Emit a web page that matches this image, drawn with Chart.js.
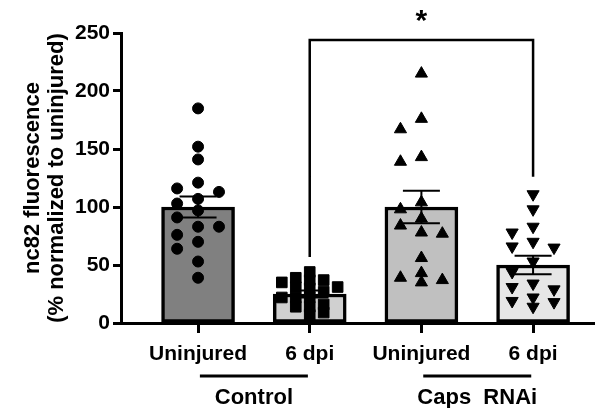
<!DOCTYPE html>
<html>
<head>
<meta charset="utf-8">
<script src="https://cdn.jsdelivr.net/npm/chart.js@4"></script>
<style>
  html, body { margin: 0; padding: 0; background: #fff; }
  #wrap { width: 603px; height: 408px; }
</style>
</head>
<body>
<div id="wrap"><canvas id="nc82Chart" width="603" height="408"></canvas></div>
<script>
// values
const catLabels = ["Uninjured", "6 dpi", "Uninjured", "6 dpi"];
const groupNames = ["Control", "Caps  RNAi"];
const yTicks = [0, 50, 100, 150, 200, 250];
const means = [100, 25, 100, 50];
const sems = [9, 3, 14, 8];
const barColors = ["#808080", "#d0d0d0", "#c0c0c0", "#e6e6e6"];

const ctrlUninjured = [185, 152, 141, 121, 116, 113, 107, 103, 97, 91, 83, 83, 76, 70, 64, 53, 39];
const ctrl6dpi = [44, 39, 37, 37, 35, 31, 31, 30, 27, 22, 22, 22, 16, 14, 14, 9, 7];
const rnaiUninjured = [215, 176, 167, 143, 139, 104, 98, 90, 84, 78, 77, 56, 43, 39, 37, 35];
const rnai6dpi = [111, 98, 83, 78, 70, 66, 65, 53, 44, 34, 31, 29, 22, 19, 18, 14];

const FONT = "'Liberation Sans', Arial, sans-serif";

// rough px per unit, only used to spread the dots sideways (beeswarm)
const PX_X = 112, PX_Y = 1.16;

function swarm(values, center, half, colGap, diam, maxK) {
  const placed = [];
  const order = values.map((v, i) => i).sort((a, b) => values[b] - values[a]);
  const ks = [0];
  for (let k = 1; k <= maxK; k++) ks.push(-k, k);
  const out = new Array(values.length);
  order.forEach(i => {
    const v = values[i];
    let best = 0, bestGap = -1;
    for (const k of ks) {
      const cand = k * half;
      let gap = Infinity;
      placed.forEach(p => {
        if (Math.abs(p.dx - cand) < colGap) gap = Math.min(gap, Math.abs(p.v - v) * PX_Y);
      });
      if (gap >= diam) { best = cand; bestGap = gap; break; }
      if (gap > bestGap) { bestGap = gap; best = cand; }
    }
    placed.push({ dx: best, v });
    out[i] = { x: center + best / PX_X, y: v };
  });
  return out;
}

function pointSet(values, center, style, radius, rotation, spread) {
  const s = spread || { half: 10.5, colGap: 20.5, diam: 11, maxK: 3 };
  return {
    type: "scatter",
    data: swarm(values, center, s.half, s.colGap, s.diam, s.maxK),
    pointStyle: style,
    pointRadius: radius,
    pointRotation: rotation || 0,
    backgroundColor: "#000",
    borderColor: "#000",
    borderWidth: 1,
    order: 1
  };
}

// error bars, significance bracket, group labels
const extrasPlugin = {
  id: "extras",
  afterDatasetsDraw(chart) {
    const { ctx, scales: { x, y }, chartArea } = chart;
    ctx.save();
    ctx.strokeStyle = "#000";
    ctx.fillStyle = "#000";

    // SEM bars
    ctx.lineWidth = 2;
    means.forEach((m, i) => {
      const cx = x.getPixelForValue(i + 1);
      const yt = y.getPixelForValue(m + sems[i]);
      const yb = y.getPixelForValue(m - sems[i]);
      const w = 18.5;
      ctx.beginPath();
      ctx.moveTo(cx, yt); ctx.lineTo(cx, yb);
      ctx.moveTo(cx - w, yt); ctx.lineTo(cx + w, yt);
      ctx.moveTo(cx - w, yb); ctx.lineTo(cx + w, yb);
      ctx.stroke();
    });

    // bracket 6 dpi control vs 6 dpi RNAi
    ctx.lineWidth = 2.5;
    const x1 = x.getPixelForValue(2), x2 = x.getPixelForValue(4);
    const top = y.getPixelForValue(244);
    ctx.beginPath();
    ctx.moveTo(x1, y.getPixelForValue(57));
    ctx.lineTo(x1, top);
    ctx.lineTo(x2, top);
    ctx.lineTo(x2, y.getPixelForValue(126));
    ctx.stroke();
    ctx.font = "bold 30px " + FONT;
    ctx.textAlign = "center";
    ctx.textBaseline = "middle";
    ctx.fillText("*", x.getPixelForValue(3), top - 18);

    // group underlines + names
    ctx.lineWidth = 3;
    ctx.font = "bold 22px " + FONT;
    [[1, 2], [3, 4]].forEach((pair, g) => {
      const mid = x.getPixelForValue((pair[0] + pair[1]) / 2);
      const ly = chartArea.bottom + 53;
      ctx.beginPath();
      ctx.moveTo(mid - 54, ly);
      ctx.lineTo(mid + 54, ly);
      ctx.stroke();
      ctx.fillText(groupNames[g], mid, ly + 22);
    });
    ctx.restore();
  }
};

new Chart(document.getElementById("nc82Chart"), {
  type: "bar",
  data: {
    datasets: [
      pointSet(ctrlUninjured, 1, "circle", 5.5),
      pointSet(ctrl6dpi, 2, "rect", 7.5, 0, { half: 7, colGap: 10, diam: 7, maxK: 4 }),
      pointSet(rnaiUninjured, 3, "triangle", 7),
      pointSet(rnai6dpi, 4, "triangle", 7, 180),
      {
        type: "bar",
        data: means.map((m, i) => ({ x: i + 1, y: m })),
        backgroundColor: barColors,
        borderColor: "#000",
        borderWidth: 3.5,
        borderSkipped: false,
        barThickness: 73,
        order: 2
      }
    ]
  },
  options: {
    responsive: false,
    animation: false,
    events: [],
    layout: { padding: { top: 33, right: 3, left: 0, bottom: 0 } },
    plugins: { legend: { display: false }, tooltip: { enabled: false } },
    scales: {
      x: {
        type: "linear",
        offset: false,
        min: 0.31,
        max: 4.55,
        afterFit(s) { s.height = 85; },
        afterBuildTicks(s) { s.ticks = catLabels.map((c, i) => ({ value: i + 1 })); },
        grid: { offset: false, drawOnChartArea: false, tickLength: 10, tickWidth: 3, tickColor: "#000" },
        border: { color: "#000", width: 3 },
        ticks: {
          autoSkip: false,
          maxRotation: 0,
          padding: 9,
          color: "#000",
          font: { family: FONT, size: 21, weight: "bold" },
          callback: v => catLabels[v - 1]
        }
      },
      y: {
        min: 0,
        max: 250,
        afterFit(s) { s.width = 121; },
        afterBuildTicks(s) { s.ticks = yTicks.map(v => ({ value: v })); },
        grid: { drawOnChartArea: false, tickLength: 8, tickWidth: 3, tickColor: "#000" },
        border: { color: "#000", width: 3 },
        ticks: {
          padding: 3,
          color: "#000",
          font: { family: FONT, size: 21, weight: "bold" }
        },
        title: {
          display: true,
          text: ["nc82 fluorescence", "(% normalized to uninjured)"],
          color: "#000",
          padding: { top: 21, bottom: 0 },
          font: { family: FONT, size: 22, weight: "bold", lineHeight: 1.1 }
        }
      }
    }
  },
  plugins: [extrasPlugin]
});
</script>
</body>
</html>
